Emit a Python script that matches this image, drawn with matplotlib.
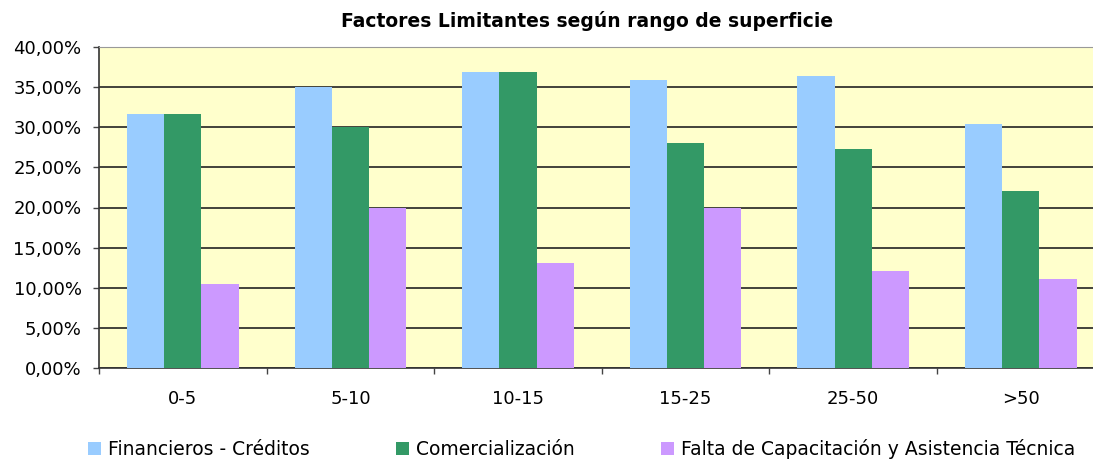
import numpy as np
import matplotlib
matplotlib.use("Agg")
import matplotlib.pyplot as plt

# Data
categories = ["0-5", "5-10", "10-15", "15-25", "25-50", ">50"]
financieros = [31.6, 35.0, 36.9, 35.9, 36.4, 30.4]
comercializacion = [31.6, 30.0, 36.9, 28.0, 27.3, 22.0]
capacitacion = [10.5, 20.0, 13.1, 20.0, 12.1, 11.1]
series_names = ["Financieros - Créditos", "Comercialización",
                "Falta de Capacitación y Asistencia Técnica"]
yticks = [0, 5, 10, 15, 20, 25, 30, 35, 40]

plt.rcParams['font.family'] = ['DejaVu Sans']

fig = plt.figure(figsize=(10.93, 4.59), dpi=100)
# plot area runs past the right edge of the image, like the original
ax = fig.add_axes([99/1093, 91/459, 1005.5/1093, 321/459])
ax.set_facecolor('#FFFFCC')

x = np.arange(len(categories))
w = 1/4.5
colors = ['#99CCFF', '#339966', '#CC99FF']
for i, (vals, col, name) in enumerate(zip([financieros, comercializacion, capacitacion], colors, series_names)):
    ax.bar(x + (i - 1)*w, vals, width=w, color=col, label=name, zorder=3, linewidth=0)

ax.set_xlim(-0.5, 5.5)
ax.set_ylim(0, 40)
ax.set_yticks(yticks)
ax.set_yticklabels(["%d,00%%" % v for v in yticks], fontsize=13)
ax.yaxis.grid(True, color='#222222', linewidth=1.2, zorder=0)
ax.tick_params(axis='y', length=4.5, width=1, color='#444444', pad=8)

# ticks between groups, labels at the centres
ax.set_xticks(np.arange(-0.5, 5.5, 1.0))
ax.set_xticklabels([])
ax.set_xticks(x, minor=True)
ax.set_xticklabels(categories, minor=True, fontsize=13)
ax.tick_params(axis='x', which='major', length=4.5, width=1, color='#444444')
ax.tick_params(axis='x', which='minor', length=0, pad=15.5)

for s in ['left', 'bottom']:
    ax.spines[s].set_color('#333333')
    ax.spines[s].set_linewidth(1.2)
ax.spines['top'].set_color('#999999')
ax.spines['right'].set_visible(False)

fig.text(587/1093, 1 - 27/459, "Factores Limitantes según rango de superficie",
         ha='center', va='baseline', fontsize=13.5, fontweight='bold')

fig.legend(loc='center left', bbox_to_anchor=(88/1093, 1 - 449/459), ncol=3,
           frameon=False, fontsize=13.5, handlelength=0.7, handleheight=0.7,
           handletextpad=0.37, columnspacing=4.6, borderaxespad=0, borderpad=0)

fig.savefig("out.png", dpi=100)
